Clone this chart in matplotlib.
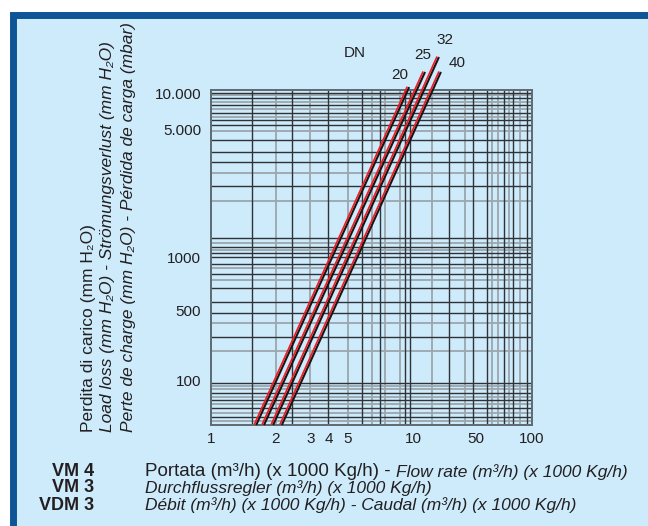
import numpy as np
import matplotlib.pyplot as plt
from matplotlib.patches import Rectangle
from matplotlib.ticker import FixedLocator, FixedFormatter, NullLocator
from matplotlib.transforms import offset_copy

plt.rcParams['font.family'] = ['Liberation Sans', 'DejaVu Sans']

# --- chart data -------------------------------------------------------------
dn_sizes = ['20', '25', '32', '40']
flow_start = [1.62, 1.76, 1.94, 2.14]        # m3/h at the bottom of the paper
loss_start = [35, 35, 35, 35]                # mm H2O
flow_end = [9.6, 13.6, 19.4, 20.4]
loss_end = [11200, 15000, 20000, 15000]

x_ticks = [1, 2, 3, 4, 5, 10, 50, 100]
x_tick_labels = ['1', '2', '3', '4', '5', '10', '50', '100']
y_ticks = [100, 500, 1000, 5000, 10000]
y_tick_labels = ['100', '500', '1000', '5.000', '10.000']

# ruling of the (hand drawn) log paper
x_grid_dark = [1.55, 2.41, 3.94, 5.8, 7.03, 9.18, 9.68, 25.1, 46.3, 57.3, 70.7, 79, 94.2]
x_grid_light = [2, 2.97, 5, 6.46, 7.42, 8.7, 16.3, 37.8, 61, 65.7, 75.2, 86.2]
y_grid_dark = [10000, 9080, 7940, 6810, 5950, 5410, 4350, 3740, 3300, 2440, 1270, 1135,
               1050, 1000, 912, 800, 667, 555, 467, 269, 93, 74, 63, 52, 42]
y_grid_light = [9620, 8410, 7350, 6310, 4880, 2880, 2020, 1190, 1090, 866, 740, 371,
                195, 87, 81, 67, 57, 46, 38.5]

# the paper is not a true log grid: knots of the printed scales
x_knot_vals = [0.5, 1, 2, 3, 4, 5, 10, 50, 100, 200]
x_knot_pos = [146, 211, 276, 311, 329, 348, 413, 476, 532, 588]
y_knot_vals = [10, 35, 100, 500, 1000, 5000, 10000, 20000, 50000]
y_knot_pos = [46, 101, 146, 216, 269, 397, 433, 469, 516]


def make_scale(vals, pos):
    lv = np.log10(vals)

    def fwd(v):
        v = np.clip(np.asarray(v, dtype=float), 1e-9, None)
        return np.interp(np.log10(v), lv, pos)

    def inv(p):
        return 10 ** np.interp(np.asarray(p, dtype=float), pos, lv)
    return fwd, inv


TXT = '#231f20'

# --- figure -----------------------------------------------------------------
fig = plt.figure(figsize=(6.48, 5.26), dpi=100)
fig.patch.set_facecolor('white')
fig.patches.append(Rectangle((12.5 / 648, -0.05), (650.5 - 12.5) / 648, 0.9724 + 0.05,
                             transform=fig.transFigure, facecolor='#cdebfb',
                             edgecolor='#0d5597', lw=5.0, zorder=-5))

ax = fig.add_axes([211 / 648, 101 / 526, 321 / 648, 335 / 526])
ax.set_facecolor('none')
ax.set_xscale('function', functions=make_scale(x_knot_vals, x_knot_pos))
ax.set_yscale('function', functions=make_scale(y_knot_vals, y_knot_pos))
ax.set_xlim(1, 100)
ax.set_ylim(35, 10600)

for v in x_grid_light:
    ax.axvline(v, color='#9ba6ad', lw=1.3, zorder=1)
for v in y_grid_light:
    ax.axhline(v, color='#9ba6ad', lw=1.3, zorder=1)
for v in x_grid_dark:
    ax.axvline(v, color='#2f3337', lw=1.0, zorder=2)
for v in y_grid_dark:
    ax.axhline(v, color='#2f3337', lw=1.0, zorder=2)

for s in ax.spines.values():
    s.set_color('#5f6a72')
    s.set_linewidth(1.4)

ax.xaxis.set_major_locator(FixedLocator(x_ticks))
ax.xaxis.set_major_formatter(FixedFormatter(x_tick_labels))
ax.yaxis.set_major_locator(FixedLocator(y_ticks))
ax.yaxis.set_major_formatter(FixedFormatter(y_tick_labels))
ax.xaxis.set_minor_locator(NullLocator())
ax.yaxis.set_minor_locator(NullLocator())
ax.tick_params(axis='both', length=0, labelsize=11, colors=TXT)
ax.tick_params(axis='x', pad=5)
ax.tick_params(axis='y', pad=7)

# pressure-drop lines: black stroke with red print slightly out of register
red_shift = offset_copy(ax.transData, fig=fig, x=-1.9, y=0.5, units='dots')
label_offsets = [(-9, 12), (-2, 17), (6, 17), (16, 9)]
for dn, x0, y0, x1, y1, off in zip(dn_sizes, flow_start, loss_start, flow_end, loss_end,
                                    label_offsets):
    ax.plot([x0, x1], [y0, y1], color='#161616', lw=1.5, clip_on=False,
            solid_capstyle='butt', zorder=5)
    ax.plot([x0, x1], [y0, y1], color='#ee1c25', lw=1.25, clip_on=False,
            solid_capstyle='butt', zorder=6, transform=red_shift)
    ax.annotate(dn, xy=(x1, y1), xytext=off, textcoords='offset pixels',
                ha='center', va='center', fontsize=11, color=TXT,
                annotation_clip=False)

ax.text(0.449, 1.110, 'DN', transform=ax.transAxes, ha='center', va='center',
        fontsize=11, color=TXT)

# y-axis caption, three languages
ylab = [('Perdita di carico (mm H\u2082O)', 'normal', 88),
        ('Load loss (mm H\u2082O) - Str\u00f6mungsverlust (mm H\u2082O)', 'italic', 108),
        ('Perte de charge (mm H\u2082O) - P\u00e9rdida de carga (mbar)', 'italic', 128)]
for txt, style, xp in ylab:
    fig.text(xp / 648, 1 - 432 / 526, txt, rotation=90, ha='center', va='bottom',
             fontsize=12.5, style=style, color=TXT)

# x-axis caption with model names
models = ['VM 4', 'VM 3', 'VDM 3']
rows_y = [471, 488, 505]
for m, yp in zip(models, rows_y):
    fig.text(94 / 648, 1 - yp / 526, m, ha='right', va='center', fontsize=13,
             fontweight='bold', color=TXT)

t1 = fig.text(145 / 648, 1 - 471 / 526, 'Portata (m\u00b3/h) (x 1000 Kg/h) - ',
              ha='left', va='center', fontsize=13.5, color=TXT)
ax.annotate('Flow rate (m\u00b3/h) (x 1000 Kg/h)', xy=(1, 0), xycoords=t1,
            ha='left', va='bottom', fontsize=12.5, style='italic', color=TXT,
            annotation_clip=False)
fig.text(145 / 648, 1 - 488 / 526, 'Durchflussregler (m\u00b3/h) (x 1000 Kg/h)',
         ha='left', va='center', fontsize=12.5, style='italic', color=TXT)
fig.text(145 / 648, 1 - 505 / 526,
         'D\u00e9bit (m\u00b3/h) (x 1000 Kg/h) - Caudal (m\u00b3/h) (x 1000 Kg/h)',
         ha='left', va='center', fontsize=12.5, style='italic', color=TXT)

fig.savefig('out.png', dpi=100, facecolor=fig.get_facecolor())
